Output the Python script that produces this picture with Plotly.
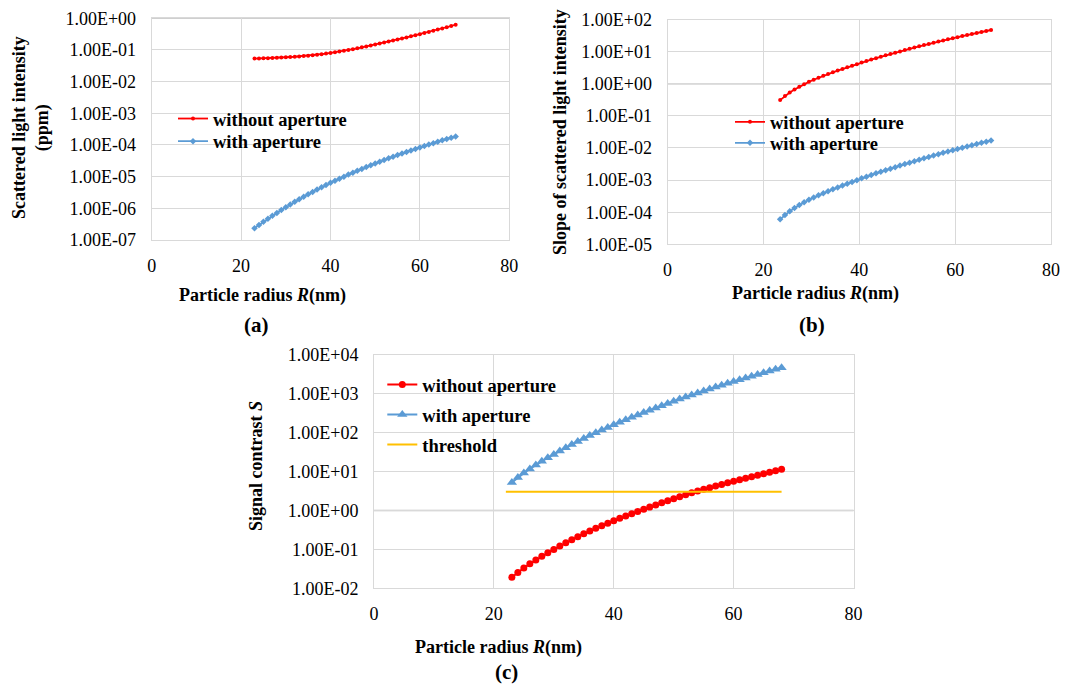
import plotly.graph_objects as go

# ---------------- data ----------------
R_a = [23, 24, 25, 26, 27, 28, 29, 30, 31, 32, 33, 34, 35, 36, 37, 38, 39, 40, 41, 42, 43, 44, 45,
       46, 47, 48, 49, 50, 51, 52, 53, 54, 55, 56, 57, 58, 59, 60, 61, 62, 63, 64, 65, 66, 67, 68]
a_without = [0.0535, 0.0540, 0.0546, 0.0552, 0.0560, 0.0569, 0.0578, 0.0589, 0.0600, 0.0612,
             0.0627, 0.0643, 0.0661, 0.0682, 0.0708, 0.0736, 0.0767, 0.0804, 0.0843, 0.0889,
             0.0940, 0.0995, 0.1059, 0.1130, 0.1208, 0.1291, 0.1384, 0.1479, 0.1589, 0.1710,
             0.1841, 0.1982, 0.2138, 0.2307, 0.2495, 0.2698, 0.2917, 0.3162, 0.3428, 0.3724,
             0.4046, 0.4395, 0.4786, 0.5224, 0.5715, 0.6266]
a_with = [2.37e-7, 2.99e-7, 3.74e-7, 4.67e-7, 5.79e-7, 7.16e-7, 8.81e-7, 1.08e-6, 1.32e-6, 1.60e-6,
          1.93e-6, 2.32e-6, 2.77e-6, 3.30e-6, 3.92e-6, 4.62e-6, 5.43e-6, 6.37e-6, 7.43e-6, 8.65e-6,
          1.00e-5, 1.16e-5, 1.34e-5, 1.53e-5, 1.76e-5, 2.01e-5, 2.29e-5, 2.61e-5, 2.96e-5, 3.35e-5,
          3.78e-5, 4.27e-5, 4.80e-5, 5.38e-5, 6.03e-5, 6.73e-5, 7.50e-5, 8.36e-5, 9.29e-5, 1.03e-4,
          1.14e-4, 1.26e-4, 1.40e-4, 1.54e-4, 1.70e-4, 1.87e-4]

R_b = [23.5, 24.5, 25.5, 26.5, 27.5, 28.5, 29.5, 30.5, 31.5, 32.5, 33.5, 34.5, 35.5, 36.5, 37.5,
       38.5, 39.5, 40.5, 41.5, 42.5, 43.5, 44.5, 45.5, 46.5, 47.5, 48.5, 49.5, 50.5, 51.5, 52.5,
       53.5, 54.5, 55.5, 56.5, 57.5, 58.5, 59.5, 60.5, 61.5, 62.5, 63.5, 64.5, 65.5, 66.5, 67.5]
b_without = [0.309, 0.412, 0.531, 0.664, 0.811, 0.970, 1.143, 1.330, 1.535, 1.758,
             2.000, 2.265, 2.559, 2.884, 3.243, 3.639, 4.074, 4.550, 5.070, 5.636,
             6.252, 6.918, 7.638, 8.414, 9.247, 10.16, 11.14, 12.22, 13.37, 14.62,
             15.96, 17.38, 18.92, 20.56, 22.28, 24.15, 26.12, 28.25, 30.48, 32.89,
             35.40, 38.11, 40.93, 43.95, 47.10]
b_with = [6.03e-5, 8.15e-5, 1.06e-4, 1.35e-4, 1.67e-4, 2.03e-4, 2.43e-4, 2.86e-4, 3.35e-4, 3.89e-4,
          4.49e-4, 5.16e-4, 5.92e-4, 6.76e-4, 7.71e-4, 8.77e-4, 9.95e-4, 1.13e-3, 1.28e-3, 1.44e-3,
          1.62e-3, 1.82e-3, 2.03e-3, 2.27e-3, 2.53e-3, 2.82e-3, 3.14e-3, 3.49e-3, 3.87e-3, 4.30e-3,
          4.75e-3, 5.25e-3, 5.81e-3, 6.40e-3, 7.03e-3, 7.73e-3, 8.47e-3, 9.29e-3, 1.02e-2, 1.11e-2,
          1.22e-2, 1.33e-2, 1.45e-2, 1.57e-2, 1.71e-2]

R_c = [23, 24, 25, 26, 27, 28, 29, 30, 31, 32, 33, 34, 35, 36, 37, 38, 39, 40, 41, 42, 43, 44, 45,
       46, 47, 48, 49, 50, 51, 52, 53, 54, 55, 56, 57, 58, 59, 60, 61, 62, 63, 64, 65, 66, 67, 68]
c_without = [0.01914, 0.02547, 0.03319, 0.04246, 0.05358, 0.06653, 0.08166, 0.09931, 0.1213, 0.1472,
             0.1774, 0.2123, 0.2523, 0.2979, 0.3491, 0.4064, 0.4710, 0.5433, 0.6252, 0.7178,
             0.8222, 0.9397, 1.072, 1.219, 1.384, 1.567, 1.774, 2.000, 2.249, 2.523,
             2.825, 3.155, 3.491, 3.846, 4.227, 4.656, 5.105, 5.585, 6.095, 6.668,
             7.278, 7.962, 8.690, 9.506, 10.40, 11.40]
c_with = [5.224, 6.966, 9.099, 11.67, 14.72, 18.32, 22.54, 27.48, 33.65, 40.93,
          49.43, 59.29, 70.63, 83.75, 98.86, 116.1, 135.8, 158.1, 183.7, 212.8,
          246.0, 283.8, 326.6, 375.0, 429.5, 490.9, 559.8, 636.8, 722.8, 818.5,
          924.7, 1042, 1172, 1315, 1472, 1648, 1841, 2051, 2280, 2535,
          2812, 3119, 3451, 3819, 4217, 4656]
thr_R = [22, 68]
thr_S = [3, 3]

x_ticks = [0, 20, 40, 60, 80]
ya_ticks = [1e-7, 1e-6, 1e-5, 1e-4, 1e-3, 1e-2, 1e-1, 1e0]
ya_labels = ["1.00E-07", "1.00E-06", "1.00E-05", "1.00E-04", "1.00E-03", "1.00E-02", "1.00E-01", "1.00E+00"]
yb_ticks = [1e-5, 1e-4, 1e-3, 1e-2, 1e-1, 1e0, 1e1, 1e2]
yb_labels = ["1.00E-05", "1.00E-04", "1.00E-03", "1.00E-02", "1.00E-01", "1.00E+00", "1.00E+01", "1.00E+02"]
yc_ticks = [1e-2, 1e-1, 1e0, 1e1, 1e2, 1e3, 1e4]
yc_labels = ["1.00E-02", "1.00E-01", "1.00E+00", "1.00E+01", "1.00E+02", "1.00E+03", "1.00E+04"]

# ---------------- style ----------------
W, H = 1074, 688
FONT = "Liberation Serif, Times New Roman, serif"
RED = "#FF0000"
BLUE = "#5B9BD5"
GOLD = "#FFC000"
GRID = "#D9D9D9"


def px(x):
    return x / W


def py(y):
    return 1 - y / H


fig = go.Figure()

# panel (a)
fig.add_trace(go.Scatter(x=R_a, y=a_without, mode="lines+markers", name="without aperture",
                         line=dict(color=RED, width=1.8), marker=dict(symbol="circle", size=4, color=RED),
                         xaxis="x", yaxis="y", legend="legend"))
fig.add_trace(go.Scatter(x=R_a, y=a_with, mode="lines+markers", name="with aperture",
                         line=dict(color=BLUE, width=1.8), marker=dict(symbol="diamond", size=5, color=BLUE),
                         xaxis="x", yaxis="y", legend="legend2"))
# panel (b)
fig.add_trace(go.Scatter(x=R_b, y=b_without, mode="lines+markers", name="without aperture",
                         line=dict(color=RED, width=1.8), marker=dict(symbol="circle", size=4, color=RED),
                         xaxis="x2", yaxis="y2", legend="legend3"))
fig.add_trace(go.Scatter(x=R_b, y=b_with, mode="lines+markers", name="with aperture",
                         line=dict(color=BLUE, width=1.8), marker=dict(symbol="diamond", size=5, color=BLUE),
                         xaxis="x2", yaxis="y2", legend="legend4"))
# panel (c)
fig.add_trace(go.Scatter(x=R_c, y=c_without, mode="lines+markers", name="without aperture",
                         line=dict(color=RED, width=2), marker=dict(symbol="circle", size=7, color=RED),
                         xaxis="x3", yaxis="y3", legend="legend5"))
fig.add_trace(go.Scatter(x=R_c, y=c_with, mode="lines+markers", name="with aperture",
                         line=dict(color=BLUE, width=2), marker=dict(symbol="triangle-up", size=9, color=BLUE),
                         xaxis="x3", yaxis="y3", legend="legend6"))
fig.add_trace(go.Scatter(x=thr_R, y=thr_S, mode="lines", name="threshold",
                         line=dict(color=GOLD, width=2),
                         xaxis="x3", yaxis="y3", legend="legend7"))

tickfont = dict(family=FONT, size=18, color="black")


def xax(domain, anchor):
    return dict(domain=domain, anchor=anchor, range=[0, 80], tickvals=x_ticks, showgrid=True,
                gridcolor=GRID, gridwidth=1, showline=True, linecolor=GRID, linewidth=1, mirror=True,
                zeroline=False, ticks="", tickfont=tickfont, ticklabelstandoff=9, fixedrange=True,
                automargin=False)


def yax(domain, anchor, rng, vals, labels):
    return dict(domain=domain, anchor=anchor, type="log", range=rng, tickvals=vals, ticktext=labels,
                showgrid=True, gridcolor=GRID, gridwidth=1, showline=True, linecolor=GRID, linewidth=1,
                mirror=True, zeroline=False, ticks="", tickfont=tickfont, ticklabelstandoff=11,
                fixedrange=True, automargin=False)


legfont = dict(family=FONT, size=18.5, color="black", weight="bold")


def leg(text_x, center_y):
    return dict(x=px(text_x - 40), y=py(center_y - 20), xanchor="left", yanchor="top",
                bgcolor="rgba(0,0,0,0)", font=legfont, borderwidth=0)


fig.update_layout(
    width=W, height=H,
    margin=dict(l=0, r=0, t=0, b=0, pad=0, autoexpand=False),
    paper_bgcolor="white", plot_bgcolor="white",
    font=dict(family=FONT, size=18, color="black"),
    xaxis=xax([px(151.7), px(509.3)], "y"),
    yaxis=yax([py(240), py(18.3)], "x", [-7, 0], ya_ticks, ya_labels),
    xaxis2=xax([px(667.5), px(1051)], "y2"),
    yaxis2=yax([py(244.3), py(19.5)], "x2", [-5, 2], yb_ticks, yb_labels),
    xaxis3=xax([px(374), px(853.5)], "y3"),
    yaxis3=yax([py(588.3), py(354.7)], "x3", [-2, 4], yc_ticks, yc_labels),
    legend=leg(213, 120),
    legend2=leg(213, 142.7),
    legend3=leg(770, 123.3),
    legend4=leg(770, 144.3),
    legend5=leg(422.3, 386),
    legend6=leg(422.3, 416),
    legend7=leg(422.3, 446),
    showlegend=True,
)

# axis lines at y = 1 (where the horizontal axis crosses)
for xr, yr in [("x domain", "y"), ("x2 domain", "y2"), ("x3 domain", "y3")]:
    fig.add_shape(type="line", xref=xr, yref=yr, x0=0, x1=1, y0=1, y1=1,
                  line=dict(color="#BFBFBF", width=1.5), layer="below")

titlefont = dict(family=FONT, size=18, color="black", weight="bold")
labfont = dict(family=FONT, size=21, color="black", weight="bold")
ann = [
    dict(text="Scattered light intensity<br>(ppm)", x=px(31), y=py(128), textangle=-90, font=titlefont),
    dict(text="Slope of scattered light intensity", x=px(560), y=py(132), textangle=-90, font=titlefont),
    dict(text="Signal contrast <i>S</i>", x=px(256), y=py(466), textangle=-90, font=titlefont),
    dict(text="Particle radius <i>R</i>(nm)", x=px(262), y=py(295), font=titlefont),
    dict(text="Particle radius <i>R</i>(nm)", x=px(815), y=py(293), font=titlefont),
    dict(text="Particle radius <i>R</i>(nm)", x=px(498), y=py(647), font=titlefont),
    dict(text="(a)", x=px(256), y=py(325), font=labfont),
    dict(text="(b)", x=px(812), y=py(325), font=labfont),
    dict(text="(c)", x=px(506), y=py(672), font=labfont),
]
for a in ann:
    fig.add_annotation(xref="paper", yref="paper", xanchor="center", yanchor="middle",
                       showarrow=False, **a)

fig.write_html("out.html")
